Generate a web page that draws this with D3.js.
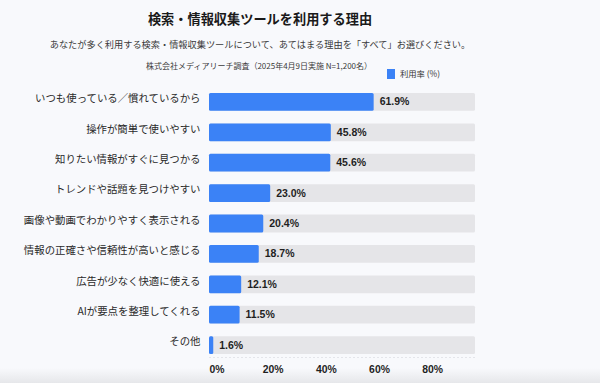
<!DOCTYPE html>
<html><head><meta charset="utf-8">
<script src="https://cdn.jsdelivr.net/npm/d3@7"></script>
<style>
html,body{margin:0;padding:0;background:#f8f9fc;}
svg{display:block;font-family:"Noto Sans CJK JP","Noto Sans",sans-serif;}
</style></head>
<body><svg id="c" width="600" height="383"></svg>
<script>
const categories = ["いつも使っている／慣れているから","操作が簡単で使いやすい","知りたい情報がすぐに見つかる","トレンドや話題を見つけやすい","画像や動画でわかりやすく表示される","情報の正確さや信頼性が高いと感じる","広告が少なく快適に使える","AIが要点を整理してくれる","その他"];
const values = [61.9,45.8,45.6,23.0,20.4,18.7,12.1,11.5,1.6];
const ticks = [0,20,40,60,80];
const title = "検索・情報収集ツールを利用する理由";
const subtitle = "あなたが多く利用する検索・情報収集ツールについて、あてはまる理由を「すべて」お選びください。";
const source = "株式会社メディアリーチ調査（2025年4月9日実施 N=1,200名）";
const legendLabel = "利用率 (%)";

const svg = d3.select("#c");
const defs = svg.append("defs");
const g = defs.append("linearGradient").attr("id","bg").attr("x1",0).attr("x2",0).attr("y1",0).attr("y2",1);
g.append("stop").attr("offset","0%").attr("stop-color","#f8f9fc");
g.append("stop").attr("offset","100%").attr("stop-color","#e6e7ea");
svg.append("rect").attr("width",600).attr("height",383).attr("fill","#f8f9fc");
svg.append("rect").attr("y",368).attr("width",600).attr("height",15).attr("fill","url(#bg)");

svg.append("text").attr("x",260).attr("y",24).attr("text-anchor","middle")
  .attr("font-size",13.2).attr("font-weight","bold").attr("fill","#1a1a1a").text(title);
svg.append("text").attr("x",260).attr("y",47.5).attr("text-anchor","middle")
  .attr("font-size",9.2).attr("fill","#3a3a3a").text(subtitle);
svg.append("text").attr("x",259).attr("y",69).attr("text-anchor","middle")
  .attr("font-size",8).attr("fill","#3a3a3a").text(source);
svg.append("rect").attr("x",387).attr("y",69).attr("width",8).attr("height",10).attr("fill","#3b82f6");
svg.append("text").attr("x",400).attr("y",77).attr("font-size",8.3).attr("fill","#333").text(legendLabel);

const x = d3.scaleLinear().domain([0,100]).range([209,475]);
const y = d3.scaleBand().domain(categories).range([87,360]).paddingInner(0.415).paddingOuter(0.2);

// faint axis line
svg.append("line").attr("x1",x(0)).attr("x2",x(100)).attr("y1",357.5).attr("y2",357.5)
  .attr("stroke","#e4e5ea").attr("stroke-width",1).attr("stroke-dasharray","2,2");

const rows = svg.append("g").selectAll("g").data(categories).join("g");
rows.append("rect").attr("x",x(0)).attr("y",d=>y(d)).attr("width",x(100)-x(0)).attr("height",y.bandwidth())
  .attr("fill","#e5e5e8").attr("rx",1.5);
rows.append("rect").attr("x",x(0)).attr("y",d=>y(d)).attr("width",(d,i)=>x(values[i])-x(0)).attr("height",y.bandwidth())
  .attr("fill","#3b82f6").attr("rx",1.5);
rows.append("text").attr("x",(d,i)=>x(values[i])+6).attr("y",d=>y(d)+y.bandwidth()/2+3.5)
  .attr("font-size",10.5).attr("font-weight","bold").attr("fill","#1f1f1f").attr("font-family","Liberation Sans, Arial, sans-serif")
  .text((d,i)=>values[i].toFixed(1)+"%");
rows.append("text").attr("x",200.5).attr("y",d=>y(d)+y.bandwidth()/2+0.3).attr("text-anchor","end")
  .attr("font-size",10.4).attr("fill","#2a2a2a").text(d=>d);

const ax = svg.append("g").attr("transform","translate(0,360)")
  .call(d3.axisBottom(x).tickValues(ticks).tickFormat(d=>d+"%").tickSize(0).tickPadding(5.5));
ax.select(".domain").remove();
ax.selectAll("text").attr("text-anchor","start").attr("font-size",10.4).attr("font-weight","bold")
  .attr("fill","#1f1f1f").attr("font-family","Liberation Sans, Arial, sans-serif");
</script></body></html>
